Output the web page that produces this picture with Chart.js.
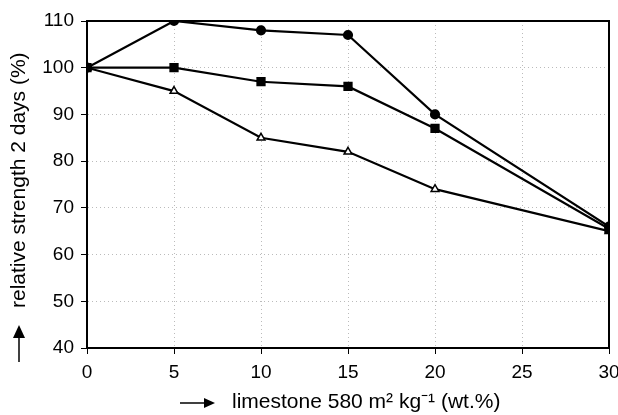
<!DOCTYPE html>
<html>
<head>
<meta charset="utf-8">
<script src="https://cdn.jsdelivr.net/npm/chart.js@4/dist/chart.umd.min.js"></script>
<style>
  body { margin: 0; background: #fff; }
  #wrap { width: 618px; height: 415px; }
</style>
</head>
<body>
<div id="wrap"><canvas id="strengthChart"></canvas></div>
<script>
const limestone = [0, 5, 10, 15, 20, 30];
const seriesDiamond = [100, 110, 108, 107, 90, 66];
const seriesSquare = [100, 100, 97, 96, 87, 65.5];
const seriesTriangle = [100, 95, 85, 82, 74, 65];

const yTitle = "relative strength 2 days (%)";
const xTitle = "limestone 580 m² kg⁻¹ (wt.%)";

function toPoints(values) {
    return values.map((v, i) => ({ x: limestone[i], y: v }));
}

// black frame on top/right plus axis titles with arrows
const framePlugin = {
    id: "frame",
    beforeDatasetsDraw(chart) {
        const { ctx, chartArea: a } = chart;
        ctx.save();
        ctx.strokeStyle = "#000";
        ctx.lineWidth = 2;
        ctx.beginPath();
        ctx.moveTo(a.left, a.top);
        ctx.lineTo(a.right, a.top);
        ctx.lineTo(a.right, a.bottom);
        ctx.stroke();
        ctx.restore();
    },
    afterDraw(chart) {
        const { ctx, chartArea: a } = chart;
        ctx.save();
        ctx.fillStyle = "#000";
        ctx.strokeStyle = "#000";
        ctx.font = "21px 'Liberation Sans', Arial, sans-serif";
        ctx.textBaseline = "middle";

        // x title
        const xt = a.left + 145;
        const yt = a.bottom + 54;
        ctx.textAlign = "left";
        ctx.fillText(xTitle, xt, yt);

        // x arrow
        ctx.lineWidth = 1.5;
        ctx.beginPath();
        ctx.moveTo(xt - 52, yt + 1);
        ctx.lineTo(xt - 22, yt + 1);
        ctx.stroke();
        ctx.beginPath();
        ctx.moveTo(xt - 17, yt + 1);
        ctx.lineTo(xt - 28, yt - 4);
        ctx.lineTo(xt - 28, yt + 6);
        ctx.closePath();
        ctx.fill();

        // y title
        const ytx = 19;
        const ytBottom = 308;
        ctx.save();
        ctx.translate(ytx, ytBottom);
        ctx.rotate(-Math.PI / 2);
        ctx.textAlign = "left";
        ctx.fillText(yTitle, 0, 0);
        ctx.restore();

        // y arrow
        ctx.beginPath();
        ctx.moveTo(ytx, 362);
        ctx.lineTo(ytx, 334);
        ctx.stroke();
        ctx.beginPath();
        ctx.moveTo(ytx, 325);
        ctx.lineTo(ytx - 6, 338);
        ctx.lineTo(ytx + 6, 338);
        ctx.closePath();
        ctx.fill();
        ctx.restore();
    }
};

const tickFont = { family: "'Liberation Sans', Arial, sans-serif", size: 19 };

new Chart(document.getElementById("strengthChart"), {
    type: "line",
    data: {
        datasets: [
            {
                label: "diamond",
                data: toPoints(seriesDiamond),
                borderColor: "#000",
                backgroundColor: "#000",
                borderWidth: 2.2,
                pointStyle: "circle",
                pointRadius: 4,
                pointBackgroundColor: "#000",
                pointBorderColor: "#000"
            },
            {
                label: "square",
                data: toPoints(seriesSquare),
                borderColor: "#000",
                backgroundColor: "#000",
                borderWidth: 2.2,
                pointStyle: "rect",
                pointRadius: 5,
                pointBackgroundColor: "#000",
                pointBorderColor: "#000"
            },
            {
                label: "triangle",
                data: toPoints(seriesTriangle),
                borderColor: "#000",
                backgroundColor: "#fff",
                borderWidth: 2.2,
                pointStyle: "triangle",
                pointRadius: 4.5,
                pointBorderWidth: 1.5,
                pointBackgroundColor: "#fff",
                pointBorderColor: "#000"
            }
        ]
    },
    options: {
        responsive: true,
        maintainAspectRatio: false,
        animation: false,
        layout: { padding: { top: 21, right: 0, left: 0, bottom: 0 } },
        plugins: {
            legend: { display: false },
            tooltip: { enabled: false }
        },
        elements: { line: { tension: 0 } },
        scales: {
            x: {
                type: "linear",
                min: 0,
                max: 30,
                ticks: {
                    stepSize: 5,
                    color: "#000",
                    padding: 7,
                    font: tickFont
                },
                grid: {
                    color: "#bbb",
                    lineWidth: 1,
                    tickLength: 6,
                    tickColor: "#000",
                    tickWidth: 1
                },
                border: { color: "#000", width: 2, dash: [1, 3] },
                afterFit: s => {
                    s.height = 67;
                    s.paddingLeft = 0;
                    s.paddingRight = 9;
                }
            },
            y: {
                min: 40,
                max: 110,
                ticks: {
                    stepSize: 10,
                    color: "#000",
                    padding: 7,
                    font: tickFont
                },
                grid: {
                    color: "#bbb",
                    lineWidth: 1,
                    tickLength: 6,
                    tickColor: "#000",
                    tickWidth: 1
                },
                border: { color: "#000", width: 2, dash: [1, 3] },
                afterFit: s => { s.width = 87; }
            }
        }
    },
    plugins: [framePlugin]
});
</script>
</body>
</html>
